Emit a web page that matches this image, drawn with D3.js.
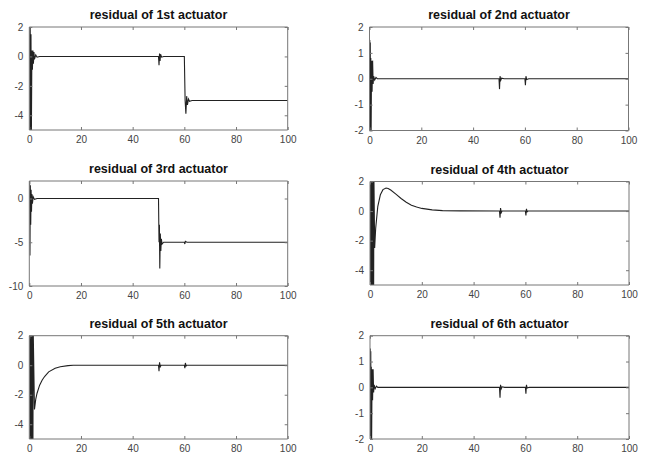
<!DOCTYPE html>
<html><head><meta charset="utf-8">
<script src="https://cdn.jsdelivr.net/npm/d3@7"></script>
<style>
body{margin:0;background:#fff;}
svg{display:block;}
</style></head>
<body>
<svg id="c" width="645" height="455"></svg>
<script>
// ---- data ----
const titles = ["residual of 1st actuator","residual of 2nd actuator","residual of 3rd actuator",
                "residual of 4th actuator","residual of 5th actuator","residual of 6th actuator"];
const xTicks = [0,20,40,60,80,100];
const yDomains = [[-5,2],[-2,2],[-10,2],[-5,2],[-5,2],[-2,2]];
const yTicks = [[-4,-2,0,2],[-2,-1,0,1,2],[-10,-5,0],[-4,-2,0,2],[-4,-2,0,2],[-2,-1,0,1,2]];

const t1 = [0,0.1,0.2,0.35,0.5,0.65,0.8,1.0,1.2,1.4,1.6,1.8,2.0,2.5,3,4,50,50.2,50.4,50.6,50.8,51.2,52,60,60.3,60.6,60.9,61.2,61.6,62,63,100];
const r1 = [0,2.5,-6,2.5,-6,1.5,-5.5,0.4,-0.9,0.4,-0.5,0.3,-0.2,0.1,-0.05,0,0,-0.6,0.2,-0.3,0.15,-0.05,0,0,-3,-3.9,-2.7,-3.3,-2.9,-3.05,-3,-3];

const t2 = [0,0.1,0.2,0.3,0.4,0.5,0.6,0.8,1.0,1.2,1.4,1.6,2,2.5,3,50,50.2,50.4,50.7,51,52,60,60.2,60.4,60.7,61.5,100];
const r2 = [0,1.5,-2.5,1.4,-2.5,0.8,-2.5,0.7,-0.5,0.7,-0.2,0.1,-0.05,0.05,0,0,-0.4,0.1,-0.05,0.02,0,0,-0.25,0.1,-0.03,0,0];

const t3 = [0,0.1,0.25,0.4,0.55,0.7,0.85,1.0,1.2,1.5,2,3,50,50.2,50.35,50.5,50.7,50.9,51.1,51.4,52,60,60.2,60.4,61,100];
const r3 = [0,2.2,-6.5,1.5,-3,1,-1.5,0.5,-0.6,0.2,-0.1,0,0,-5,-3,-8,-4,-6,-4.6,-5.2,-5,-5,-5.2,-4.9,-5,-5];

const t4 = [0,0.1,0.2,0.3,0.4,0.5,0.6,0.7,0.8,0.9,1.0,1.1,1.2,1.3,1.4,1.5,1.8,2.2,3,4,5,6.2,7,8,10,12,14,16,18,20,24,28,35,50,50.2,50.4,50.7,51,60,60.2,60.4,60.7,61,100];
const r4 = [0,2.5,-6,2.5,-6,2.5,-6,2.5,-6,2.5,-6,2.5,-6,2.5,-6,2.5,-2.5,-1.15,0.3,1.1,1.45,1.56,1.53,1.42,1.15,0.85,0.6,0.4,0.27,0.18,0.08,0.03,0.01,0,-0.45,0.2,-0.1,0,0,-0.3,0.15,-0.05,0,0];

const t5 = [0,0.1,0.2,0.3,0.4,0.5,0.6,0.7,0.8,0.9,1.0,1.1,1.2,1.3,1.4,1.5,2,2.5,3,4,5,6,7.5,10,12,15,17,50,50.2,50.4,50.7,51,60,60.2,60.4,60.7,61,100];
const r5 = [0,2.5,-6,2.5,-6,2.5,-6,2.5,-6,2.5,-6,2.5,-6,2.5,-6,2.5,-3,-2.3,-1.9,-1.35,-1.0,-0.75,-0.45,-0.2,-0.1,-0.03,0,0,-0.4,0.2,-0.1,0,0,-0.2,0.15,-0.05,0,0];

const t6 = [0,0.1,0.2,0.3,0.4,0.5,0.6,0.8,1.0,1.2,1.4,1.6,2,2.5,3,50,50.2,50.4,50.7,51,52,60,60.2,60.4,60.7,61.5,100];
const r6 = [0,1.5,-2.5,1.4,-2.5,0.8,-2.5,0.7,-0.5,0.7,-0.2,0.1,-0.05,0.05,0,0,-0.4,0.1,-0.05,0.02,0,0,-0.25,0.1,-0.03,0,0];

const times = [t1,t2,t3,t4,t5,t6];
const resid = [r1,r2,r3,r4,r5,r6];

// ---- layout ----
const boxes = [
  {x0:29.3,x1:287.7,y0:27,y1:130},
  {x0:369.5,x1:628.5,y0:27,y1:130.5},
  {x0:29.3,x1:287.7,y0:181,y1:286},
  {x0:370,x1:629,y0:181.5,y1:285},
  {x0:29.3,x1:287.7,y0:335.7,y1:439},
  {x0:370,x1:629,y0:335.7,y1:439}
];

const svg = d3.select("#c");
const fontFam = "'Liberation Sans', Arial, sans-serif";

boxes.forEach((b,i)=>{
  const x = d3.scaleLinear().domain([0,100]).range([b.x0,b.x1]);
  const y = d3.scaleLinear().domain(yDomains[i]).range([b.y1,b.y0]);
  const g = svg.append("g");
  const cid = "clip"+i;
  svg.append("clipPath").attr("id",cid).append("rect")
    .attr("x",b.x0).attr("y",b.y0).attr("width",b.x1-b.x0).attr("height",b.y1-b.y0);

  const pts = times[i].map((t,k)=>[t,resid[i][k]]);
  const line = d3.line().x(d=>x(d[0])).y(d=>y(d[1]));
  g.append("path").attr("d",line(pts)).attr("clip-path","url(#"+cid+")")
    .attr("fill","none").attr("stroke","#222").attr("stroke-width",1.1);

  // axes (inward ticks, MATLAB-like box)
  const fmt = d=>String(d);
  const axB = d3.axisBottom(x).tickValues(xTicks).tickSize(-3).tickPadding(6).tickFormat(fmt);
  const axT = d3.axisTop(x).tickValues(xTicks).tickSize(-3).tickFormat("");
  const axL = d3.axisLeft(y).tickValues(yTicks[i]).tickSize(-3).tickPadding(6).tickFormat(fmt);
  const axR = d3.axisRight(y).tickValues(yTicks[i]).tickSize(-3).tickFormat("");
  const style = sel=>{
    sel.select(".domain").attr("stroke","#777");
    sel.selectAll(".tick line").attr("stroke","#777");
    sel.selectAll("text").attr("fill","#444").style("font-family",fontFam).style("font-size","10px");
  };
  g.append("g").attr("transform",`translate(0,${b.y1})`).call(axB).call(style).select(".domain").attr("d",`M${b.x0},0H${b.x1}`);
  g.append("g").attr("transform",`translate(0,${b.y0})`).call(axT).call(style).select(".domain").attr("d",`M${b.x0},0H${b.x1}`);
  g.append("g").attr("transform",`translate(${b.x0},0)`).call(axL).call(style).select(".domain").attr("d",`M0,${b.y0}V${b.y1}`);
  g.append("g").attr("transform",`translate(${b.x1},0)`).call(axR).call(style).select(".domain").attr("d",`M0,${b.y0}V${b.y1}`);

  g.append("text").attr("x",(b.x0+b.x1)/2).attr("y",b.y0-8)
    .attr("text-anchor","middle").style("font-family",fontFam)
    .style("font-size","12.5px").style("font-weight","bold").attr("fill","#111")
    .text(titles[i]);
});
</script>
</body></html>
